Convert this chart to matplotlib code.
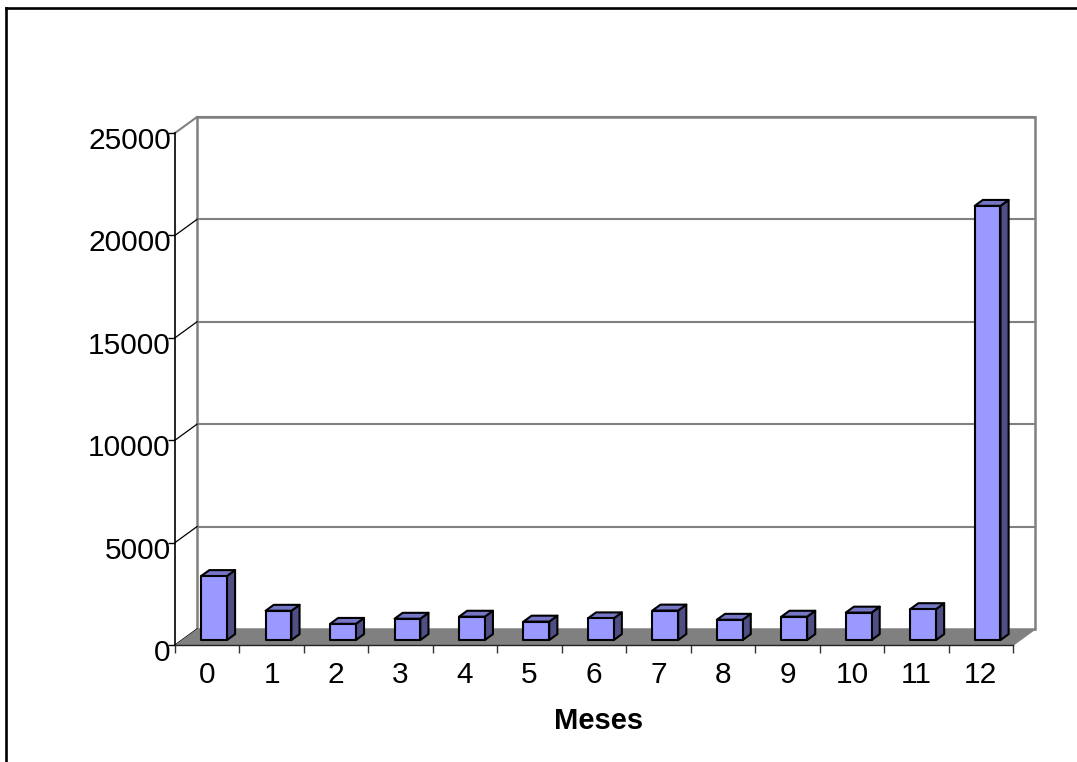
import matplotlib
matplotlib.use("Agg")
import matplotlib.pyplot as plt
from matplotlib.patches import Polygon, Rectangle
from matplotlib.lines import Line2D
from matplotlib.transforms import Affine2D

# ---- data ----
meses = ["0", "1", "2", "3", "4", "5", "6", "7", "8", "9", "10", "11", "12"]
valores = [3125, 1430, 790, 1040, 1140, 900, 1060, 1440, 990, 1140, 1340, 1510, 21200]
yticks = [0, 5000, 10000, 15000, 20000, 25000]
xlabel = "Meses"

# ---- style ----
FRONT = "#9999FF"
TOP = "#7676C6"
SIDE = "#4F4F86"
FLOOR = "#808080"
GRID = "#808080"
FONT = "Liberation Sans"

W, H, DPI = 1077, 762, 100
fig = plt.figure(figsize=(W / DPI, H / DPI), dpi=DPI)
fig.patch.set_facecolor("white")

ax_left, ax_right = 175 / W, 1013 / W
ax_bottom, ax_top = 1 - 645 / H, 1 - 133 / H
ax = fig.add_axes([ax_left, ax_bottom, ax_right - ax_left, ax_top - ax_bottom])
ax.set_xlim(-0.5, len(meses) - 0.5)
ax.set_ylim(0, 25000)
ax.patch.set_visible(False)

# depth offsets in data units (22 px right, 16 px up)
ax_w_px = (ax_right - ax_left) * W
ax_h_px = (ax_top - ax_bottom) * H
ux = len(meses) / ax_w_px
uy = 25000 / ax_h_px
DX, DY = 22 * ux, 16 * uy
x0, x1 = -0.5, len(meses) - 0.5

# floor
ax.add_patch(Polygon([(x0, 0), (x1, 0), (x1 + DX, DY), (x0 + DX, DY)],
                     closed=True, facecolor=FLOOR, edgecolor="none",
                     zorder=1, clip_on=False))
# back wall
ax.add_patch(Rectangle((x0 + DX, DY), x1 - x0, 25000, facecolor="white",
                       edgecolor=GRID, linewidth=1.8, zorder=0.5, clip_on=False))
for v in yticks[1:]:
    ax.plot([x0 + DX, x1 + DX], [v + DY, v + DY], color=GRID, lw=1.5,
            zorder=0.6, clip_on=False)
# side wall diagonals
for v in yticks:
    col = GRID if v == yticks[-1] else "black"
    ax.plot([x0, x0 + DX], [v, v + DY], color=col, lw=0.9 if col == "black" else 1.5,
            zorder=0.7, clip_on=False)
# right floor edge
ax.plot([x1, x1 + DX], [0, DY], color=FLOOR, lw=1.2, zorder=1, clip_on=False)

# bars
f0, f1 = 0.31, 0.68
bw = 0.40
for i, v in enumerate(valores):
    xl = i - bw / 2 + f0 * DX
    xr = xl + bw
    yb = f0 * DY
    yt = v + f0 * DY
    ddx = (f1 - f0) * DX
    ddy = (f1 - f0) * DY
    ax.add_patch(Polygon([(xr, yb), (xr + ddx, yb + ddy), (xr + ddx, yt + ddy), (xr, yt)],
                         closed=True, facecolor=SIDE, edgecolor="black", lw=1.5,
                         joinstyle="round", zorder=3, clip_on=False))
    ax.add_patch(Polygon([(xl, yt), (xr, yt), (xr + ddx, yt + ddy), (xl + ddx, yt + ddy)],
                         closed=True, facecolor=TOP, edgecolor="black", lw=1.5,
                         joinstyle="round", zorder=3, clip_on=False))
    ax.add_patch(Rectangle((xl, yb), bw, v, facecolor=FRONT, edgecolor="black",
                           lw=1.5, joinstyle="round", zorder=4, clip_on=False))

# spines
for s in ["top", "right"]:
    ax.spines[s].set_visible(False)
ax.spines["left"].set_color("black")
ax.spines["left"].set_linewidth(1.2)
ax.spines["bottom"].set_color("#222222")
ax.spines["bottom"].set_linewidth(1.0)
ax.spines["left"].set_zorder(5)
ax.spines["bottom"].set_zorder(5)

# y ticks
ax.set_yticks(yticks)
ax.set_yticklabels([str(t) for t in yticks], fontsize=21.5, family=FONT)
ax.tick_params(axis="y", direction="out", length=5, width=1, color="black", pad=-2)
for lab in ax.get_yticklabels():
    lab.set_transform(lab.get_transform() + Affine2D().translate(0, -5))

# x ticks: labels at centers, tick marks at boundaries
ax.set_xticks(range(len(meses)))
ax.set_xticklabels(meses, fontsize=21.5, family=FONT)
ax.set_xticks([i - 0.5 for i in range(len(meses) + 1)], minor=True)
ax.tick_params(axis="x", which="major", length=0, pad=11.5)
ax.tick_params(axis="x", which="minor", direction="out", length=5.8, width=1, color="#333333")

fig.text(599 / W, 1 - 721 / H, xlabel, ha="center", va="center",
         fontsize=21, fontweight="bold", family=FONT)

# chart-area border (left and top edges visible)
fig.add_artist(Line2D([5.5 / W, 5.5 / W], [0, 1 - 8 / H], transform=fig.transFigure,
                      color="black", lw=1.9, solid_capstyle="projecting"))
fig.add_artist(Line2D([5.5 / W, 1], [1 - 8 / H, 1 - 8 / H], transform=fig.transFigure,
                      color="black", lw=1.9, solid_capstyle="projecting"))

fig.savefig("out.png", dpi=DPI, facecolor="white")
